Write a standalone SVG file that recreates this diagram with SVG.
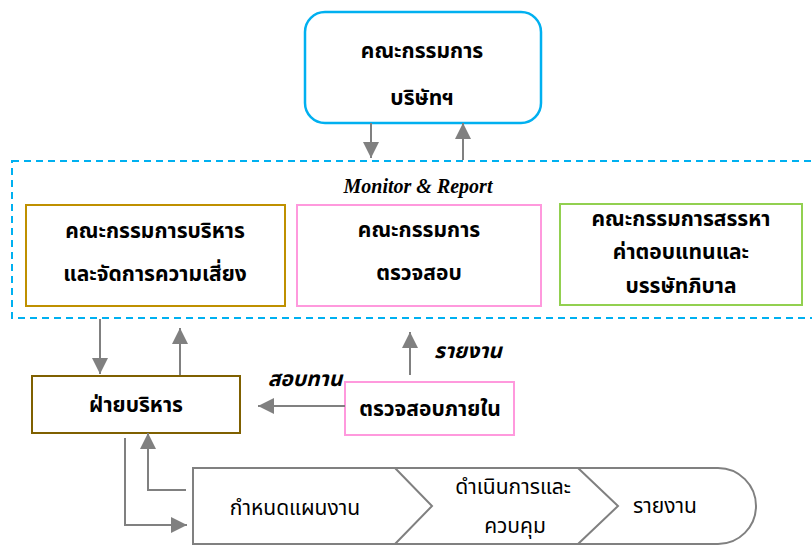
<svg xmlns="http://www.w3.org/2000/svg" width="812" height="545" viewBox="0 0 812 545">
<style>
.th{font-family:"Noto Sans Thai","Noto Sans","DejaVu Sans",sans-serif;font-size:21px;fill:#000;text-anchor:middle}
.b{font-weight:bold}
.it{font-style:italic;font-weight:bold}
.conn{stroke:#808080;stroke-width:2;fill:none}
.box{fill:#fff;stroke-width:2}
</style>
<defs>
<marker id="ah2" viewBox="0 0 10 10" refX="10" refY="5" markerWidth="16" markerHeight="16" markerUnits="userSpaceOnUse" orient="auto">
<path d="M0,0 L10,5 L0,10 Z" fill="#808080"/>
</marker>
</defs>
<rect x="12" y="161" width="810" height="157" fill="none" stroke="#00B0F0" stroke-width="2" stroke-dasharray="7,5"/>
<g id="board">
<rect x="305" y="12" width="236" height="111" rx="20" ry="20" fill="#fff" stroke="#00B0F0" stroke-width="2.5"/>
<text class="th b" x="422" y="58">คณะกรรมการ</text>
<text class="th b" x="422" y="105">บริษัทฯ</text>
</g>
<text x="418" y="193" font-family="Liberation Serif,serif" font-size="20" font-style="italic" font-weight="bold" text-anchor="middle">Monitor &amp; Report</text>
<g id="exec-committee">
<rect class="box" x="26" y="205" width="259" height="101" stroke="#BF9000"/>
<text class="th b" x="155" y="238">คณะกรรมการบริหาร</text>
<text class="th b" x="155" y="281">และจัดการความเสี่ยง</text>
</g>
<g id="audit-committee">
<rect class="box" x="297" y="205" width="244" height="101" stroke="#FF99DD"/>
<text class="th b" x="419" y="237">คณะกรรมการ</text>
<text class="th b" x="419" y="280">ตรวจสอบ</text>
</g>
<g id="nomination-committee">
<rect class="box" x="560" y="204" width="242" height="101" stroke="#92D050"/>
<text class="th b" x="681" y="226">คณะกรรมการสรรหา</text>
<text class="th b" x="681" y="259">ค่าตอบแทนและ</text>
<text class="th b" x="681" y="293">บรรษัทภิบาล</text>
</g>
<g id="management">
<rect class="box" x="32" y="376" width="208" height="57" stroke="#7F6000"/>
<text class="th b" x="136" y="412">ฝ่ายบริหาร</text>
</g>
<g id="internal-audit">
<rect class="box" x="345" y="382" width="169" height="53" stroke="#FF99DD"/>
<text class="th b" x="430" y="416">ตรวจสอบภายใน</text>
</g>
<g id="process">
<path d="M193,468 L718,468 A38,38 0 0 1 718,544 L193,544 Z" fill="#fff" stroke="#808080" stroke-width="2"/>
<path d="M395,468 L432,506 L395,544" fill="none" stroke="#808080" stroke-width="2"/>
<path d="M578,468 L618,506 L578,544" fill="none" stroke="#808080" stroke-width="2"/>
<text class="th" x="295" y="515">กำหนดแผนงาน</text>
<text class="th" x="513" y="494">ดำเนินการและ</text>
<text class="th" x="515" y="533">ควบคุม</text>
<text class="th" x="665" y="513">รายงาน</text>
</g>
<g id="connectors">
<line class="conn" x1="371" y1="123" x2="371" y2="158" marker-end="url(#ah2)"/>
<line class="conn" x1="463" y1="160" x2="463" y2="123" marker-end="url(#ah2)"/>
<line class="conn" x1="100" y1="319" x2="100" y2="374" marker-end="url(#ah2)"/>
<line class="conn" x1="180" y1="375" x2="180" y2="328" marker-end="url(#ah2)"/>
<line class="conn" x1="410" y1="375" x2="410" y2="332" marker-end="url(#ah2)"/>
<line class="conn" x1="345" y1="406" x2="258" y2="406" marker-end="url(#ah2)"/>
<polyline class="conn" points="125,438 125,525 187,525" marker-end="url(#ah2)"/>
<polyline class="conn" points="186,490 148,490 148,433" marker-end="url(#ah2)"/>
</g>
<text class="th it" x="305" y="386">สอบทาน</text>
<text class="th it" x="468" y="358">รายงาน</text>
</svg>
